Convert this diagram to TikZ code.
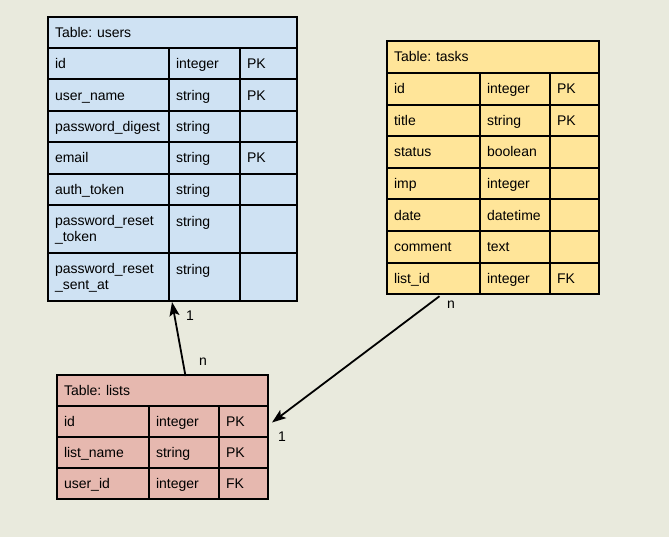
\documentclass[tikz,border=0pt]{standalone}
\usepackage{fontspec}
\setmainfont{Liberation Sans}
\usetikzlibrary{arrows.meta}
\frenchspacing

\definecolor{bgcol}{HTML}{E9EADD}
\definecolor{userblue}{HTML}{CFE2F3}
\definecolor{taskyellow}{HTML}{FFE599}
\definecolor{listpink}{HTML}{E6B8AF}

\tikzset{
  cell/.style={draw, line width=2pt, anchor=north west, align=left,
    inner xsep=7pt, inner ysep=0pt, outer sep=0pt,
    font=\fontsize{14}{16.5}\selectfont},
  one/.style={text height=11pt, text depth=1pt},
  rel/.style={-{Stealth[length=14pt,width=10pt,inset=3pt]}, line width=1.8pt},
  card/.style={font=\fontsize{14}{16.5}\selectfont, inner sep=0pt},
}

\begin{document}
\begin{tikzpicture}[x=1pt, y=-1pt]
  \useasboundingbox[fill=bgcol] (0,0) rectangle (669,537);

  % users
  \node[cell, one, fill=userblue, minimum width=249, text width=235, minimum height=31] (users) at (48,17) {Table: users};
  \foreach \i/\na/\ty/\ke in {1/id/integer/PK, 2/user\_name/string/PK, 3/password\_digest/string/{}, 4/email/string/PK, 5/auth\_token/string/{}} {
    \node[cell, one, fill=userblue, minimum width=121, text width=107, minimum height=31.4] (u\i a) at (48, {48+31.4*(\i-1)}) {\na};
    \node[cell, one, fill=userblue, minimum width=71, text width=57, minimum height=31.4] (u\i b) at (169, {48+31.4*(\i-1)}) {\ty};
    \node[cell, one, fill=userblue, minimum width=57, text width=43, minimum height=31.4] (u\i c) at (240, {48+31.4*(\i-1)}) {\ke};
  }
  \node[cell, fill=userblue, minimum width=121, text width=107, minimum height=48] (u6a) at (48,205) {\strut password\_reset\\\_token};
  \node[cell, fill=userblue, minimum width=71, text width=57, minimum height=48] (u6b) at (169,205) {\strut string\\\mbox{}};
  \node[cell, fill=userblue, minimum width=57, text width=43, minimum height=48] (u6c) at (240,205) {};
  \node[cell, fill=userblue, minimum width=121, text width=107, minimum height=48] (u7a) at (48,253) {\strut password\_reset\\\_sent\_at};
  \node[cell, fill=userblue, minimum width=71, text width=57, minimum height=48] (u7b) at (169,253) {\strut string\\\mbox{}};
  \node[cell, fill=userblue, minimum width=57, text width=43, minimum height=48] (u7c) at (240,253) {};

  % tasks
  \node[cell, one, fill=taskyellow, minimum width=212, text width=198, minimum height=32] (tasks) at (387,41) {Table: tasks};
  \foreach \i/\na/\ty/\ke in {1/id/integer/PK, 2/title/string/PK, 3/status/boolean/{}, 4/imp/integer/{}, 5/date/datetime/{}, 6/comment/text/{}, 7/list\_id/integer/FK} {
    \node[cell, one, fill=taskyellow, minimum width=93, text width=79, minimum height=31.6] (t\i a) at (387, {73+31.6*(\i-1)}) {\na};
    \node[cell, one, fill=taskyellow, minimum width=70, text width=56, minimum height=31.6] (t\i b) at (480, {73+31.6*(\i-1)}) {\ty};
    \node[cell, one, fill=taskyellow, minimum width=49, text width=35, minimum height=31.6] (t\i c) at (550, {73+31.6*(\i-1)}) {\ke};
  }

  % lists
  \node[cell, one, fill=listpink, minimum width=211, text width=197, minimum height=31] (lists) at (57,375) {Table: lists};
  \foreach \i/\na/\ty/\ke in {1/id/integer/PK, 2/list\_name/string/PK, 3/user\_id/integer/FK} {
    \node[cell, one, fill=listpink, minimum width=92, text width=78, minimum height=31] (l\i a) at (57, {406+31*(\i-1)}) {\na};
    \node[cell, one, fill=listpink, minimum width=70, text width=56, minimum height=31] (l\i b) at (149, {406+31*(\i-1)}) {\ty};
    \node[cell, one, fill=listpink, minimum width=49, text width=35, minimum height=31] (l\i c) at (219, {406+31*(\i-1)}) {\ke};
  }

  \draw[rel] ([xshift=23pt, yshift=-1pt]lists.north) -- ([xshift=3pt, yshift=-1pt]u7a.south east);
  \draw[rel] ([xshift=6pt, yshift=-2pt]t7a.south) -- ([xshift=4pt, yshift=-1pt]l1c.east);

  \node[card] (one-u) at (190,316) {1};
  \node[card] (n-l) at (203,362) {n};
  \node[card] (n-t) at (451,305) {n};
  \node[card] (one-l) at (282,437) {1};
\end{tikzpicture}
\end{document}
